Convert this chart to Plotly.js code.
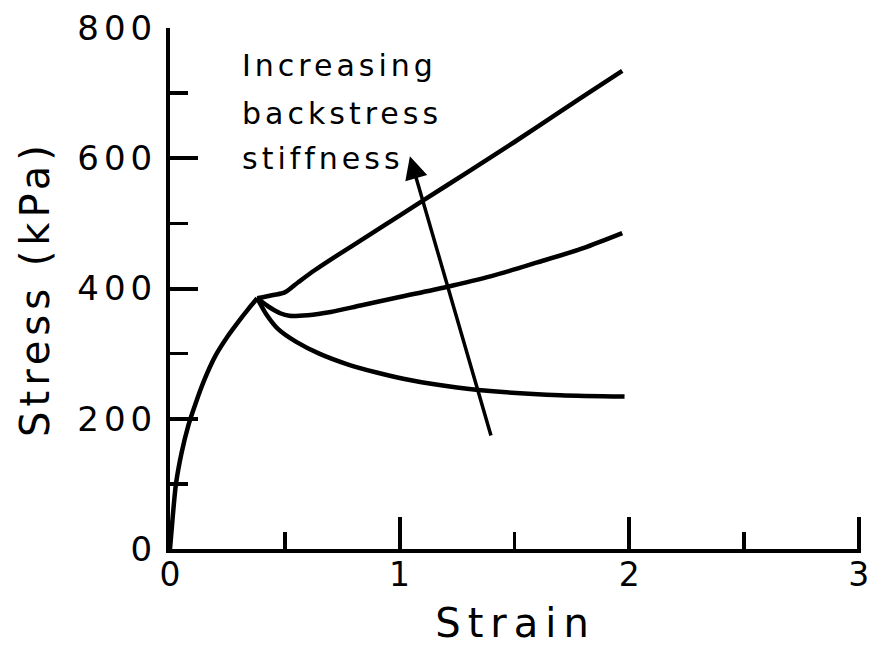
<!DOCTYPE html>
<html>
<head>
<meta charset="utf-8">
<script src="https://cdn.plot.ly/plotly-3.0.1.min.js"></script>
<style>
  html, body { margin: 0; padding: 0; background: #fff; }
  #chart { width: 874px; height: 646px; }
  .xtitle { letter-spacing: 7px; }
  .ytitle { letter-spacing: 5px; }
  .ytick text { letter-spacing: 5px; }
  .annotation-text { letter-spacing: 4px; }
</style>
</head>
<body>
<div id="chart"></div>
<script>
// Initial loading branch (common to all curves)
const strainLoad = [0, 0.012, 0.026, 0.05, 0.08, 0.11, 0.15, 0.20, 0.25, 0.30, 0.34, 0.38];
const stressLoad = [0, 50, 100, 147, 190, 222, 260, 298, 326, 350, 368, 385];

// Highest backstress stiffness
const strainUpper = [0.38, 0.45, 0.50, 0.56, 0.63, 0.72, 0.85, 1.0, 1.2, 1.4, 1.6, 1.8, 1.97];
const stressUpper = [385, 390, 394, 410, 428, 449, 478, 512, 557, 602, 648, 695, 734];

// Intermediate backstress stiffness
const strainMid = [0.38, 0.43, 0.48, 0.52, 0.60, 0.70, 0.83, 1.0, 1.2, 1.4, 1.6, 1.8, 1.97];
const stressMid = [385, 372, 362, 358, 359, 364, 374, 387, 402, 419, 440, 462, 485];

// Lowest backstress stiffness
const strainLow = [0.38, 0.42, 0.47, 0.55, 0.65, 0.77, 0.90, 1.05, 1.25, 1.45, 1.70, 1.98];
const stressLow = [385, 360, 338, 318, 300, 284, 271, 259, 248, 241, 236, 234];

// Arrow (tail -> head) in data units
const arrowStrain = [1.40, 1.045];
const arrowStress = [172, 603];

const noteLines = ["Increasing", "backstress", "stiffness"];
const noteStrain = 0.305;
const noteStress = [743, 669, 600];

const xTickVals = [0, 1, 2, 3];
const xTickText = ["0", "1", "2", "3"];
const yTickVals = [0, 200, 400, 600, 800];
const yTickText = ["0", "200", "400", "600", "800"];

const FONT = "DejaVu Sans, Arial, sans-serif";
const lineStyle = {color: "#000", width: 4.5, shape: "spline", smoothing: 0.8};

function branch(x, y) {
  return {x: x, y: y, type: "scatter", mode: "lines", line: lineStyle,
          hoverinfo: "skip", showlegend: false, cliponaxis: false};
}

const traces = [
  branch(strainLoad, stressLoad),
  branch(strainUpper, stressUpper),
  branch(strainMid, stressMid),
  branch(strainLow, stressLow)
];

const annotations = noteLines.map((t, i) => ({
  x: noteStrain, y: noteStress[i], xref: "x", yref: "y",
  text: t, showarrow: false, xanchor: "left", yanchor: "middle",
  font: {family: FONT, size: 30, color: "#000"}
}));
annotations.push({
  x: arrowStrain[1], y: arrowStress[1], ax: arrowStrain[0], ay: arrowStress[0],
  xref: "x", yref: "y", axref: "x", ayref: "y",
  text: "", showarrow: true, arrowhead: 2, arrowsize: 1.3, arrowwidth: 3.5,
  arrowcolor: "#000", standoff: 0, startstandoff: 0
});

const layout = {
  width: 874, height: 646,
  margin: {l: 170, r: 13, t: 28, b: 97},
  paper_bgcolor: "#fff", plot_bgcolor: "#fff",
  showlegend: false,
  font: {family: FONT, color: "#000"},
  xaxis: {
    range: [0, 3.01], showgrid: false, zeroline: false,
    showline: true, linecolor: "#000", linewidth: 4,
    tickmode: "array", tickvals: xTickVals, ticktext: xTickText,
    ticks: "inside", ticklen: 32, tickwidth: 4, tickcolor: "#000",
    minor: {dtick: 0.5, tick0: 0, ticks: "inside", ticklen: 17, tickwidth: 3.5, tickcolor: "#000", showgrid: false},
    tickfont: {family: FONT, size: 33, color: "#000"},
    ticklabelstandoff: -7,
    title: {text: "Strain", font: {family: FONT, size: 40, color: "#000"}, standoff: 32},
    fixedrange: true
  },
  yaxis: {
    range: [0, 800], showgrid: false, zeroline: false,
    showline: true, linecolor: "#000", linewidth: 4,
    tickmode: "array", tickvals: yTickVals, ticktext: yTickText,
    ticks: "inside", ticklen: 28, tickwidth: 4, tickcolor: "#000",
    minor: {dtick: 100, tick0: 0, ticks: "inside", ticklen: 18, tickwidth: 3.5, tickcolor: "#000", showgrid: false},
    tickfont: {family: FONT, size: 34, color: "#000"},
    ticklabelstandoff: 2,
    title: {text: "Stress (kPa)", font: {family: FONT, size: 40, color: "#000"}, standoff: 16},
    fixedrange: true
  },
  annotations: annotations
};

Plotly.newPlot("chart", traces, layout, {displayModeBar: false, staticPlot: true});
</script>
</body>
</html>
